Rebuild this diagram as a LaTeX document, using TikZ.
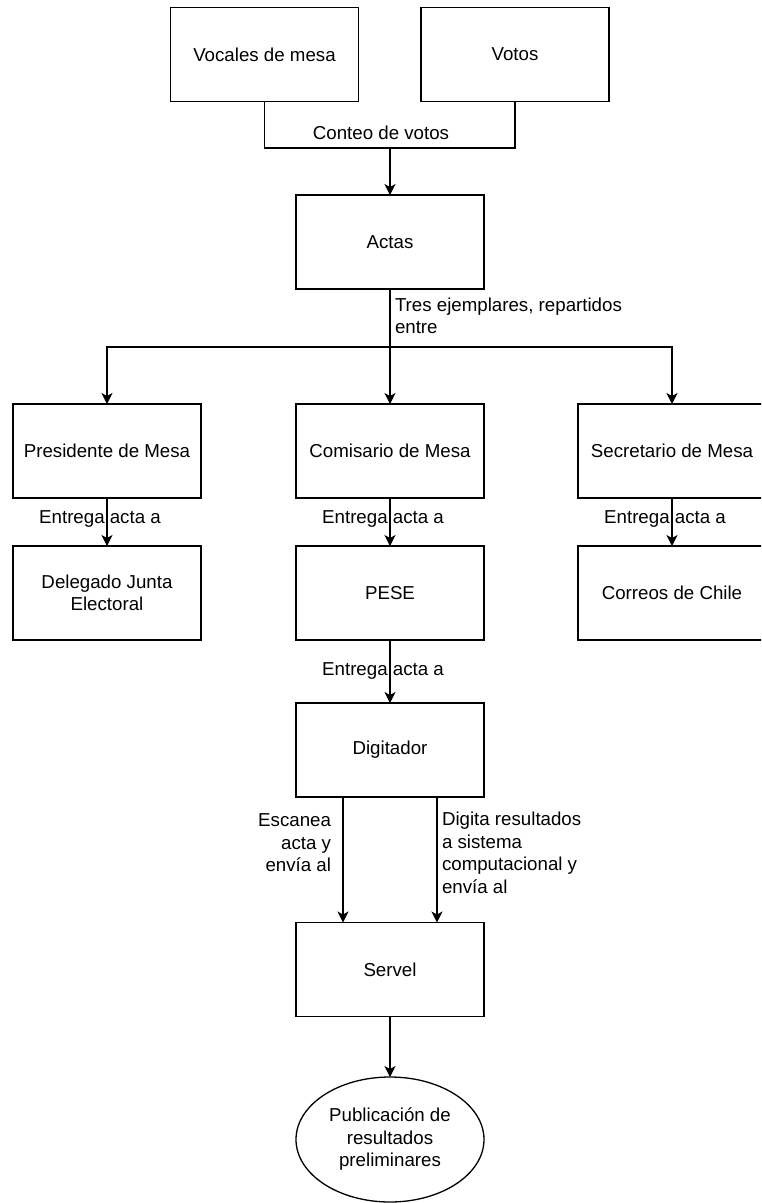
\documentclass[tikz,border=0pt]{standalone}
\usepackage{fontspec}
\setmainfont{Liberation Sans}
\usetikzlibrary{arrows.meta,shapes.geometric}

\tikzset{
  box/.style={draw=black, line width=1.3pt, fill=white, minimum width=188pt,
    minimum height=94pt, inner sep=2pt, outer sep=0pt, align=center},
  endnode/.style={ellipse, draw=black, line width=1.3pt, fill=white,
    minimum width=188pt, minimum height=125pt, inner sep=0pt, outer sep=0pt,
    align=center},
  link/.style={draw=black, line width=1.3pt},
  flow/.style={link, -{Stealth[length=11pt, width=11pt, inset=3pt]}},
  lbl/.style={inner sep=0pt, outer sep=0pt, font=\fontsize{18.7}{22.5}\selectfont}
}

\begin{document}
\begin{tikzpicture}[x=1pt, y=-1pt, font=\fontsize{18.7}{22.5}\selectfont]
  \useasboundingbox (0,0) rectangle (761,1203);
  \clip (0,0) rectangle (761,1203);

  % sources
  \node[box] (voc) at (264.5,54.5) {Vocales de mesa};
  \node[box] (vot) at (515,54.5) {Votos};
  \node[box] (actas) at (390,242) {Actas};

  % three copies
  \node[box] (pres) at (107,451) {Presidente de Mesa};
  \node[box] (com) at (390,451) {Comisario de Mesa};
  \node[box] (sec) at (672,451) {Secretario de Mesa};

  \node[box] (del) at (107,593) {Delegado Junta\\Electoral};
  \node[box] (pese) at (390,593) {PESE};
  \node[box] (corr) at (672,593) {Correos de Chile};

  \node[box] (dig) at (390,750) {Digitador};
  \node[box] (servel) at (390,969.5) {Servel};
  \node[endnode] (pub) at (390,1139.5) {Publicación de\\resultados\\preliminares};

  % junction points
  \coordinate (join) at (390,148);
  \coordinate (split) at (390,347);

  % vote count
  \draw[link] (voc.south) |- (join);
  \draw[link] (vot.south) |- (join);
  \draw[flow] (join) -- (actas.north);
  \node[lbl] (conteo) at (381,133) {Conteo de votos};

  % distribution of the three copies
  \draw[link] (actas.south) -- (split);
  \draw[flow] (split) -| (pres.north);
  \draw[flow] (split) -- (com.north);
  \draw[flow] (split) -| (sec.north);
  \node[lbl, anchor=west, align=left] (tres) at (395,316) {Tres ejemplares, repartidos\\entre};

  % handovers
  \draw[flow] (pres.south) -- (del.north);
  \draw[flow] (com.south) -- (pese.north);
  \draw[flow] (sec.south) -- (corr.north);
  \node[lbl] (e1) at (100,519) {Entrega acta a};
  \node[lbl] (e2) at (383,519) {Entrega acta a};
  \node[lbl] (e3) at (665,519) {Entrega acta a};

  \draw[flow] (pese.south) -- (dig.north);
  \node[lbl] (e4) at (383,671) {Entrega acta a};

  % digitiser to Servel
  \draw[flow] ([xshift=-47pt]dig.south) -- ([xshift=-47pt]servel.north);
  \draw[flow] ([xshift=47pt]dig.south) -- ([xshift=47pt]servel.north);
  \node[lbl, anchor=east, align=right] (scan) at (331,843) {Escanea\\acta y\\envía al};
  \node[lbl, anchor=west, align=left] (typ) at (442,853) {Digita resultados\\a sistema\\computacional y\\envía al};

  % publication
  \draw[flow] (servel.south) -- (pub.north);
\end{tikzpicture}
\end{document}
